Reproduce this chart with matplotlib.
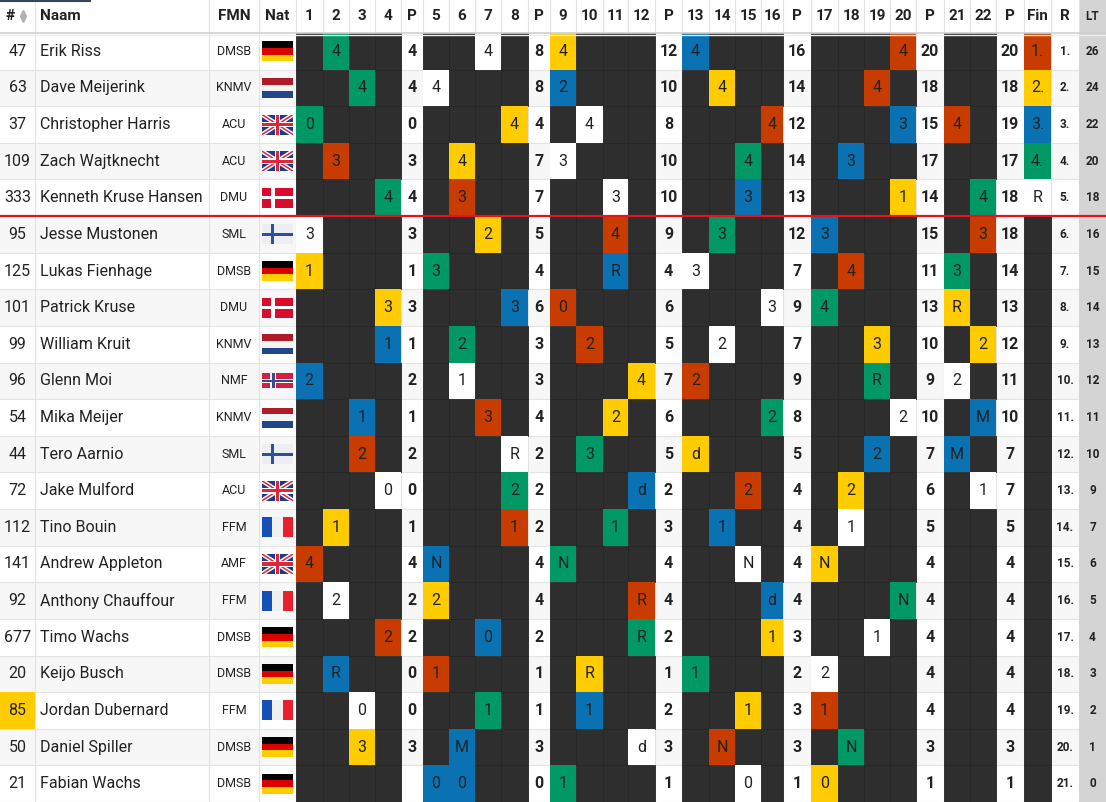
import numpy as np
import matplotlib.pyplot as plt
from matplotlib.patches import Rectangle

plt.rcParams['font.family'] = ['Roboto', 'DejaVu Sans']

# Gegevens van de uitslag
nummers = [47, 63, 37, 109, 333, 95, 125, 101, 99, 96, 54, 44, 72, 112, 141, 92, 677, 20, 85, 50, 21]
namen = ['Erik Riss', 'Dave Meijerink', 'Christopher Harris', 'Zach Wajtknecht',
         'Kenneth Kruse Hansen', 'Jesse Mustonen', 'Lukas Fienhage', 'Patrick Kruse',
         'William Kruit', 'Glenn Moi', 'Mika Meijer', 'Tero Aarnio', 'Jake Mulford',
         'Tino Bouin', 'Andrew Appleton', 'Anthony Chauffour', 'Timo Wachs',
         'Keijo Busch', 'Jordan Dubernard', 'Daniel Spiller', 'Fabian Wachs']
fmn = ['DMSB', 'KNMV', 'ACU', 'ACU', 'DMU', 'SML', 'DMSB', 'DMU', 'KNMV', 'NMF', 'KNMV',
       'SML', 'ACU', 'FFM', 'AMF', 'FFM', 'DMSB', 'DMSB', 'FFM', 'DMSB', 'DMSB']
nat = ['de', 'nl', 'gb', 'gb', 'dk', 'fi', 'de', 'dk', 'nl', 'no', 'nl',
       'fi', 'gb', 'fr', 'gb', 'fr', 'de', 'de', 'fr', 'de', 'de']

# heats 1..22: kleur (g, o, y, b, w) + waarde, '.' = niet gereden
heats = [
    ". g4 . . . . w4 . y4 . . . b4 . . . . . . o4 . .",
    ". . g4 . w4 . . . b2 . . . . y4 . . . . o4 . . .",
    "g0 . . . . . . y4 . w4 . . . . . o4 . . . b3 o4 .",
    ". o3 . . . y4 . . w3 . . . . . g4 . . b3 . . . .",
    ". . . g4 . o3 . . . . w3 . . . b3 . . . . y1 . g4",
    "w3 . . . . . y2 . . . o4 . . g3 . . b3 . . . . o3",
    "y1 . . . g3 . . . . . bR . w3 . . . . o4 . . g3 .",
    ". . . y3 . . . b3 o0 . . . . . . w3 g4 . . . yR .",
    ". . . b1 . g2 . . . o2 . . . w2 . . . . y3 . . y2",
    "b2 . . . . w1 . . . . . y4 o2 . . . . . gR . w2 .",
    ". . b1 . . . o3 . . . y2 . . . . g2 . . . w2 . bM",
    ". . o2 . . . . wR . g3 . . yd . . . . . b2 . bM .",
    ". . . w0 . . . g2 . . . bd . . o2 . . y2 . . . w1",
    ". y1 . . . . . o1 . . g1 . . b1 . . . w1 . . . .",
    "o4 . . . bN . . . gN . . . . . wN . yN . . . . .",
    ". w2 . . y2 . . . . . . oR . . . bd . . . gN . .",
    ". . . o2 . . b0 . . . . gR . . . y1 . . w1 . . .",
    ". bR . . o1 . . . . yR . . g1 . . . w2 . . . . .",
    ". . w0 . . . g1 . . b1 . . . . y1 . o1 . . . . .",
    ". . y3 . . bM . . . . . wd . oN . . . gN . . . .",
    ". . . . b0 b0 . . g1 . . . . . w0 . y0 . . . . .",
]

# tussenstanden na heat 4, 8, 12, 16, 20, 22
punten = [
    ['4', '8', '12', '16', '20', '20'],
    ['4', '8', '10', '14', '18', '18'],
    ['0', '4', '8', '12', '15', '19'],
    ['3', '7', '10', '14', '17', '17'],
    ['4', '7', '10', '13', '14', '18'],
    ['3', '5', '9', '12', '15', '18'],
    ['1', '4', '4', '7', '11', '14'],
    ['3', '6', '6', '9', '13', '13'],
    ['1', '3', '5', '7', '10', '12'],
    ['2', '3', '7', '9', '9', '11'],
    ['1', '4', '6', '8', '10', '10'],
    ['2', '2', '5', '5', '7', '7'],
    ['0', '2', '2', '4', '6', '7'],
    ['1', '2', '3', '4', '5', '5'],
    ['4', '4', '4', '4', '4', '4'],
    ['2', '4', '4', '4', '4', '4'],
    ['2', '2', '2', '3', '4', '4'],
    ['0', '1', '1', '2', '4', '4'],
    ['0', '1', '2', '3', '4', '4'],
    ['3', '3', '3', '3', '3', '3'],
    ['', '0', '1', '1', '1', '1'],
]

finale = ['o1.', 'y2.', 'b3.', 'g4.', 'wR'] + ['.'] * 16
rang = ['1.', '2.', '3.', '4.', '5.', '6.', '7.', '8.', '9.', '10.', '11.',
        '12.', '13.', '14.', '15.', '16.', '17.', '18.', '19.', '20.', '21.']
lt = [26, 24, 22, 20, 18, 16, 15, 14, 13, 12, 11, 10, 9, 7, 6, 5, 4, 3, 2, 1, 0]
geel_nummer = [85]

kleuren = {'g': '#009966', 'o': '#c93c00', 'y': '#ffcc00', 'b': '#0a72b2', 'w': '#ffffff'}
donker = '#2e2e2e'

# kolommen: (kop, breedte, soort)
kolommen = [('#', 35, 'nr'), ('Naam', 174, 'naam'), ('FMN', 50, 'fmn'), ('Nat', 37, 'nat')]
heat_breedte = [26.5, 26.5, 26, 26, 26, 26, 26, 27, 26, 27, 25, 27, 27, 26, 26, 22,
                27, 26, 26, 26, 26, 26]
p_breedte = [22, 22, 27, 28, 28, 28]
p_na = [4, 8, 12, 16, 20, 22]
pi = 0
for h in range(22):
    kolommen.append((str(h + 1), heat_breedte[h], 'heat'))
    if h + 1 in p_na:
        kolommen.append(('P', p_breedte[pi], 'p'))
        pi += 1
kolommen += [('Fin', 27, 'fin'), ('R', 28, 'r'), ('LT', 27, 'lt')]

randen = np.concatenate([[0], np.cumsum([k[1] for k in kolommen])])
breedte = randen[-1]
kop_h = 33
rij_h = (802 - kop_h) / len(namen)


def vlag(ax, code, xc, yc):
    w = 31
    h = 15 if code == 'no' else 20
    x, y = xc - w / 2, yc - h / 2
    rect = lambda x0, y0, ww, hh, c: ax.add_patch(Rectangle((x0, y0), ww, hh, color=c, lw=0, zorder=4))
    if code == 'de':
        for k, c in enumerate(['#000000', '#dd0000', '#ffce00']):
            rect(x, y + k * h / 3, w, h / 3, c)
    elif code == 'nl':
        for k, c in enumerate(['#ae1c28', '#f4f4f4', '#21468b']):
            rect(x, y + k * h / 3, w, h / 3, c)
    elif code == 'fr':
        for k, c in enumerate(['#1452b8', '#f0f0f0', '#e8202e']):
            rect(x + k * w / 3, y, w / 3, h, c)
    elif code == 'dk':
        rect(x, y, w, h, '#d90c2e')
        rect(x + w * 0.30, y, w * 0.12, h, '#ffffff')
        rect(x, y + h * 0.42, w, h * 0.16, '#ffffff')
    elif code == 'fi':
        rect(x, y, w, h, '#eceef2')
        rect(x + w * 0.28, y, w * 0.12, h, '#2e4f9c')
        rect(x, y + h * 0.43, w, h * 0.14, '#2e4f9c')
    elif code == 'no':
        rect(x, y, w, h, '#d22040')
        rect(x + w * 0.26, y, w * 0.2, h, '#ffffff')
        rect(x, y + h * 0.37, w, h * 0.26, '#ffffff')
        rect(x + w * 0.31, y, w * 0.1, h, '#3a4a8c')
        rect(x, y + h * 0.44, w, h * 0.12, '#3a4a8c')
    elif code == 'gb':
        bg = Rectangle((x, y), w, h, color='#1f3a8a', lw=0, zorder=4)
        ax.add_patch(bg)
        for (xa, ya, xb, yb) in [(x, y, x + w, y + h), (x, y + h, x + w, y)]:
            l1, = ax.plot([xa, xb], [ya, yb], color='#ffffff', lw=3.2, zorder=4, solid_capstyle='butt')
            l2, = ax.plot([xa, xb], [ya, yb], color='#e0243a', lw=1.1, zorder=4, solid_capstyle='butt')
            l1.set_clip_path(bg)
            l2.set_clip_path(bg)
        rect(x + w * 0.42, y, w * 0.16, h, '#ffffff')
        rect(x, y + h * 0.36, w, h * 0.28, '#ffffff')
        rect(x + w * 0.455, y, w * 0.09, h, '#e0243a')
        rect(x, y + h * 0.42, w, h * 0.16, '#e0243a')


fig = plt.figure(figsize=(11.06, 8.02), dpi=100)
ax = fig.add_axes([0, 0, 1, 1])
ax.set_xlim(0, 1106)
ax.set_ylim(802, 0)
ax.axis('off')

tekst = '#222222'

# kopregel
ax.add_patch(Rectangle((0, 0), breedte, kop_h, color='#ffffff', lw=0, zorder=0))
for j, (kop, b, soort) in enumerate(kolommen):
    x0 = randen[j]
    xc = x0 + b / 2
    if soort == 'lt':
        ax.add_patch(Rectangle((x0, 0), b, kop_h, color='#d4d4d4', lw=0, zorder=1))
        ax.text(xc, kop_h / 2, kop, ha='center', va='center', fontsize=8.5,
                fontweight='bold', color=tekst, zorder=5)
    elif soort == 'naam':
        ax.text(x0 + 5, kop_h / 2, kop, ha='left', va='center', fontsize=11,
                fontweight='bold', color=tekst, zorder=5)
    elif soort == 'nr':
        ax.text(10, kop_h / 2, kop, ha='center', va='center', fontsize=11,
                fontweight='bold', color=tekst, zorder=5)
        ax.plot([22.5], [kop_h / 2 - 4], marker='^', ms=5, color='#b0b0b0', lw=0, zorder=5)
        ax.plot([22.5], [kop_h / 2 + 2], marker='v', ms=5, color='#b0b0b0', lw=0, zorder=5)
    else:
        ax.text(xc, kop_h / 2, kop, ha='center', va='center', fontsize=11,
                fontweight='bold', color=tekst, zorder=5)

# rijen
for i in range(len(namen)):
    y0 = kop_h + i * rij_h
    yc = y0 + rij_h / 2
    achtergrond = '#ffffff' if i % 2 == 0 else '#f7f7f7'
    ax.add_patch(Rectangle((0, y0), breedte, rij_h, color=achtergrond, lw=0, zorder=0))
    ax.plot([0, breedte], [y0 + rij_h, y0 + rij_h], color='#e4e4e4', lw=0.8, zorder=1)
    tokens = heats[i].split()
    hi = 0
    pk = 0
    for j, (kop, b, soort) in enumerate(kolommen):
        x0 = randen[j]
        xc = x0 + b / 2
        if soort == 'nr':
            if nummers[i] in geel_nummer:
                ax.add_patch(Rectangle((x0, y0), b, rij_h, color='#ffcc00', lw=0, zorder=2))
            ax.text(xc, yc, str(nummers[i]), ha='center', va='center', fontsize=11.5,
                    color=tekst, zorder=5)
        elif soort == 'naam':
            ax.text(x0 + 5, yc, namen[i], ha='left', va='center', fontsize=11.5,
                    color=tekst, zorder=5)
        elif soort == 'fmn':
            ax.text(xc, yc, fmn[i], ha='center', va='center', fontsize=9,
                    color=tekst, zorder=5)
        elif soort == 'nat':
            vlag(ax, nat[i], x0 + 18.5, yc)
        elif soort in ('heat', 'fin'):
            tok = tokens[hi] if soort == 'heat' else finale[i]
            if soort == 'heat':
                hi += 1
            if tok == '.':
                ax.add_patch(Rectangle((x0, y0), b, rij_h, facecolor=donker,
                                       edgecolor='#262626', lw=0.6, zorder=2))
            else:
                ax.add_patch(Rectangle((x0, y0), b, rij_h, color=kleuren[tok[0]],
                                       lw=0, zorder=2))
                ax.text(xc, yc, tok[1:], ha='center', va='center', fontsize=11.5,
                        color=tekst, zorder=5)
        elif soort == 'p':
            ax.text(xc, yc, punten[i][pk], ha='center', va='center', fontsize=11.5,
                    fontweight='bold', color=tekst, zorder=5)
            pk += 1
        elif soort == 'r':
            ax.text(xc, yc, rang[i], ha='center', va='center', fontsize=8.5,
                    fontweight='bold', color=tekst, zorder=5)
        elif soort == 'lt':
            ax.add_patch(Rectangle((x0, y0), b, rij_h, color='#d4d4d4', lw=0, zorder=2))
            ax.text(xc, yc, str(lt[i]), ha='center', va='center', fontsize=8.5,
                    fontweight='bold', color=tekst, zorder=5)

# verticale rasterlijnen
for x in randen[1:-1]:
    ax.plot([x, x], [0, 802], color='#e2e2e2', lw=0.8, zorder=1)

# schaduw onder de kop en scheidingslijn na plek 5
ax.plot([0, breedte], [kop_h, kop_h], color='#cfcfcf', lw=1.2, zorder=3)
ax.plot([0, breedte], [kop_h + 1.5, kop_h + 1.5], color='#ececec', lw=1, zorder=3)
ax.plot([0, breedte], [kop_h + 5 * rij_h, kop_h + 5 * rij_h], color='#e3141c', lw=1.6, zorder=6)
ax.plot([0, 90], [0.5, 0.5], color='#34495e', lw=1.5, zorder=6)

fig.savefig('out.png', dpi=100)
